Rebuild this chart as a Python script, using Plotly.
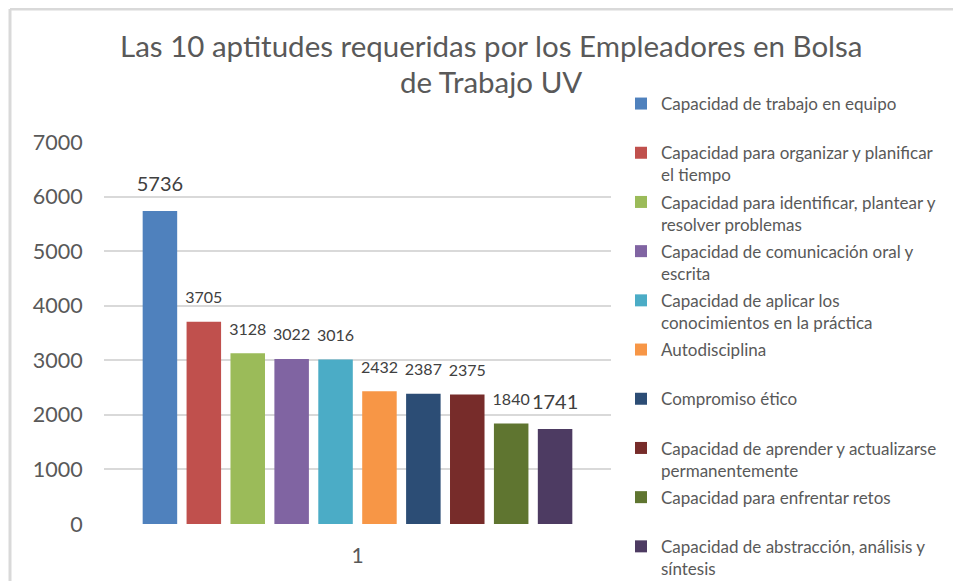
import plotly.graph_objects as go

categories = ["1"]
series_names = [
    "Capacidad de trabajo en equipo",
    "Capacidad para organizar y planificar<br>el tiempo",
    "Capacidad para identificar, plantear y<br>resolver problemas",
    "Capacidad de comunicación oral y<br>escrita",
    "Capacidad de aplicar los<br>conocimientos en la práctica",
    "Autodisciplina",
    "Compromiso ético",
    "Capacidad de aprender y actualizarse<br>permanentemente",
    "Capacidad para enfrentar retos",
    "Capacidad de abstracción, análisis y<br>síntesis",
]
values = [5736, 3705, 3128, 3022, 3016, 2432, 2387, 2375, 1840, 1741]
colors = ["#4f81bd", "#c0504d", "#9bbb59", "#8064a2", "#4bacc6",
          "#f79646", "#2c4d75", "#772c2a", "#5f7530", "#4d3b62"]
label_sizes = [20, 16, 16, 16, 16, 16, 16, 16, 16, 20]
y_ticks = [0, 1000, 2000, 3000, 4000, 5000, 6000, 7000]
title_lines = ["Las 10 aptitudes requeridas por los Empleadores en Bolsa",
               "de Trabajo UV"]

FONT = "Lato"
OFF = 8  # page body margin
W, H = 961, 581
L, R, T, B = 104 - OFF, 611 - OFF, 142 - OFF, 524 - OFF


def px(x_page):
    return (x_page - OFF - L) / (R - L)


def py(y_page):
    return (B - (y_page - OFF)) / (B - T)


fig = go.Figure()
for i, (name, v, c) in enumerate(zip(series_names, values, colors)):
    nm = name if "<br>" in name else name + "<br> "
    fig.add_trace(go.Bar(
        x=categories, y=[v], name=nm, legendgroup=str(i),
        offsetgroup=str(i), alignmentgroup="a",
        marker=dict(color=c, line=dict(width=0)),
        hoverinfo="name+y",
    ))
for i, (v, fs) in enumerate(zip(values, label_sizes)):
    fig.add_trace(go.Scatter(
        x=categories, y=[v], mode="markers+text", text=[str(v)],
        textposition="top center", showlegend=False,
        offsetgroup=str(i), alignmentgroup="a",
        marker=dict(size=22, color="rgba(0,0,0,0)"),
        textfont=dict(family=FONT, size=fs, color="#404040"),
        cliponaxis=False, hoverinfo="skip",
    ))

fig.update_layout(
    width=W, height=H,
    margin=dict(l=L, r=W - R, t=T, b=H - B, pad=0, autoexpand=False),
    paper_bgcolor="white", plot_bgcolor="white",
    barmode="group", bargap=0.134, bargroupgap=0.214,
    scattermode="group", scattergap=0.134,
    font=dict(family=FONT, color="#595959"),
    showlegend=True,
    legend=dict(
        x=px(621), y=py(86), xanchor="left", yanchor="top",
        font=dict(family=FONT, size=17, color="#595959"),
        valign="top", tracegroupgap=2, itemwidth=30,
        bgcolor="rgba(0,0,0,0)", maxheight=575,
    ),
    xaxis=dict(
        range=[-0.5, 0.5], showgrid=False, zeroline=False, showline=False,
        ticks="outside", ticklen=13, tickcolor="rgba(0,0,0,0)",
        tickfont=dict(family=FONT, size=21, color="#595959"),
    ),
    yaxis=dict(
        range=[0, 7000], tickvals=y_ticks, showgrid=True,
        gridcolor="#d9d9d9", gridwidth=2, zeroline=False, showline=False,
        ticks="outside", ticklen=16, tickcolor="rgba(0,0,0,0)",
        tickfont=dict(family=FONT, size=21.5, color="#595959"),
    ),
    annotations=[
        dict(text=title_lines[0], xref="paper", yref="paper",
             x=px(491), y=py(46), xanchor="center", yanchor="middle",
             showarrow=False, font=dict(family=FONT, size=29.5, color="#595959")),
        dict(text=title_lines[1], xref="paper", yref="paper",
             x=px(491), y=py(82), xanchor="center", yanchor="middle",
             showarrow=False, font=dict(family=FONT, size=29.5, color="#595959")),
    ],
    shapes=[
        dict(type="line", xref="paper", yref="paper", x0=px(10), x1=px(975),
             y0=py(9), y1=py(9), line=dict(color="#d9d9d9", width=3)),
        dict(type="line", xref="paper", yref="paper", x0=px(10), x1=px(10),
             y0=py(9), y1=py(600), line=dict(color="#d9d9d9", width=3)),
    ],
)

fig.write_html("out.html")
